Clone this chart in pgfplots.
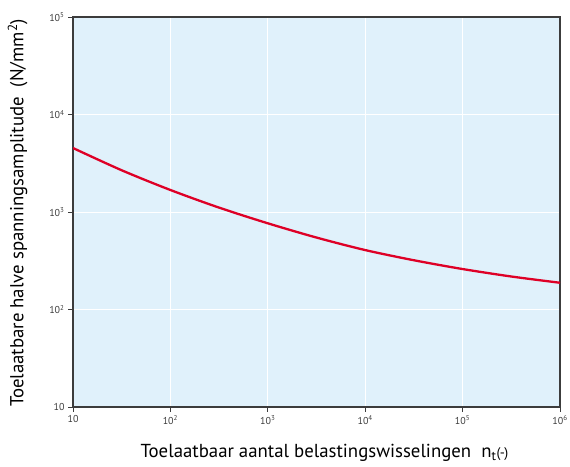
\documentclass[border=0pt]{standalone}
\usepackage{pgfplots}
\pgfplotsset{compat=1.18}
\usepackage{fontspec}
\setmainfont{PT Sans}
\definecolor{bgblue}{RGB}{224,241,251}
\definecolor{curvered}{RGB}{222,0,38}
\definecolor{axgray}{RGB}{60,60,60}
\begin{document}
\begin{tikzpicture}[x=1pt,y=1pt]
\useasboundingbox (0,0) rectangle (570,466);
\begin{axis}[
  at={(73pt,59pt)}, anchor=south west,
  scale only axis, width=487pt, height=390pt,
  xmode=log, ymode=log,
  xmin=10, xmax=1e6, ymin=10, ymax=1e5,
  xtick={10,100,1000,10000,100000,1000000},
  ytick={10,100,1000,10000,100000},
  xticklabels={10,10\textsuperscript{2},10\textsuperscript{3},10\textsuperscript{4},10\textsuperscript{5},10\textsuperscript{6}},
  yticklabels={10,10\textsuperscript{2},10\textsuperscript{3},10\textsuperscript{4},10\textsuperscript{5}},
  minor tick num=0, log ticks with fixed point=false,
  xminorticks=false, yminorticks=false,
  tick label style={font=\fontsize{10}{12}\selectfont, text=axgray},
  xtick pos=bottom, ytick pos=left,
  tick align=outside, major tick length=5pt,
  tick style={axgray, line width=0.8pt},
  axis line style={axgray, line width=1.1pt},
  grid=major, major grid style={white, line width=0.9pt},
  axis background/.style={fill=bgblue},
  xlabel={Toelaatbaar aantal belastingswisselingen\ \ n\textsubscript{t}{\fontsize{14}{16}\selectfont(-)}},
  ylabel={Toelaatbare halve spanningsamplitude\ \ (N/mm\textsuperscript{2})},
  label style={font=\fontsize{18.8}{22}\selectfont, text=black},
  xlabel style={at={(axis description cs:0.5,0)}, anchor=north, yshift=-34pt, xshift=8pt},
  ylabel style={at={(axis description cs:0,0.5)}, anchor=south, yshift=42pt, xshift=-1pt},
]
\addplot[curvered, line width=2.3pt, smooth] coordinates {
  (10,4530) (31.6,2680) (100,1682) (316,1109) (1000,766) (3162,547)
  (10000,407) (31623,320) (100000,260) (316228,218) (1000000,188)
};
\end{axis}
\end{tikzpicture}
\end{document}
